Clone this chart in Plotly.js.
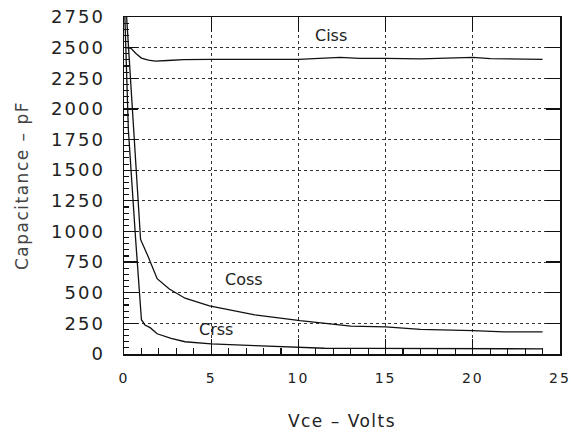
<!DOCTYPE html>
<html>
<head>
<meta charset="utf-8">
<script src="https://cdn.plot.ly/plotly-3.0.1.min.js"></script>
<style>
  html, body { margin: 0; padding: 0; background: #fff; }
  #chart { width: 573px; height: 433px; }
  .xtick text { letter-spacing: 2px; }
  .ytick text { letter-spacing: 2px; }
  .g-xtitle text, .g-ytitle text { letter-spacing: 1.5px; }
</style>
</head>
<body>
<div id="chart"></div>
<script>
// Vce (volts) and capacitance (pF)
const cissX = [0.1, 0.4, 0.7, 1.0, 1.4, 1.8, 2.5, 3.4, 5, 7.5, 10, 12.4, 13.5, 15, 17, 20, 21, 24];
const cissY = [2500, 2495, 2450, 2415, 2398, 2390, 2395, 2402, 2405, 2408, 2405, 2420, 2412, 2412, 2408, 2420, 2410, 2404];

const cossX = [0.15, 0.55, 0.95, 1.4, 1.9, 2.6, 3.5, 4.9, 7.5, 10.1, 13, 15, 17, 20, 21.8, 24];
const cossY = [2750, 1830, 935, 790, 615, 530, 455, 392, 320, 272, 228, 222, 201, 190, 180, 180];

const crssX = [0.05, 0.25, 0.67, 1.0, 1.2, 1.5, 1.9, 2.7, 3.5, 5, 7.5, 10, 10.6, 11.5, 14, 20, 24];
const crssY = [2750, 1830, 930, 280, 237, 215, 165, 128, 100, 82, 68, 58, 52, 47, 46, 44, 42];

const seriesNames = ['Ciss', 'Coss', 'Crss'];
const labelX = [11.87, 6.88, 5.28];
const labelY = [2595, 612, 196];

const xTickVals = [0, 5, 10, 15, 20, 25];
const yTickVals = [0, 250, 500, 750, 1000, 1250, 1500, 1750, 2000, 2250, 2500, 2750];

const FONT = 'DejaVu Sans, Verdana, sans-serif';
const INK = '#111';

const lineStyle = { color: INK, width: 1.3 };
const traces = [
  { x: cissX, y: cissY, mode: 'lines', line: lineStyle, name: seriesNames[0], showlegend: false },
  { x: cossX, y: cossY, mode: 'lines', line: lineStyle, name: seriesNames[1], showlegend: false },
  { x: crssX, y: crssY, mode: 'lines', line: lineStyle, name: seriesNames[2], showlegend: false },
  { x: [0], y: [0], xaxis: 'x2', yaxis: 'y2', mode: 'markers', marker: { size: 1, opacity: 0 }, showlegend: false, hoverinfo: 'skip' }
];

const annotations = seriesNames.map((n, i) => ({
  x: labelX[i], y: labelY[i], xref: 'x', yref: 'y', text: n, showarrow: false,
  font: { family: FONT, size: 16, color: '#222' }
}));

const layout = {
  width: 573, height: 433,
  margin: { l: 124, r: 13, t: 17, b: 79 },
  paper_bgcolor: '#fff', plot_bgcolor: '#fff',
  showlegend: false,
  font: { family: FONT, color: '#222' },
  xaxis: {
    range: [0, 25], tickvals: xTickVals, ticks: 'inside', ticklen: 15, tickwidth: 1.2, tickcolor: INK,
    showline: true, linewidth: 1.5, linecolor: INK, mirror: 'ticks',
    showgrid: true, griddash: 'dot', gridcolor: '#333', gridwidth: 1, zeroline: false,
    tickfont: { family: FONT, size: 14, color: '#222' }, ticklabelstandoff: 11,
    title: { text: 'Vce – Volts', font: { family: FONT, size: 17, color: '#222' }, standoff: 30 }
  },
  yaxis: {
    range: [0, 2750], tickvals: yTickVals, ticks: 'inside', ticklen: 14, tickwidth: 1.2, tickcolor: INK,
    showline: true, linewidth: 1.5, linecolor: INK, mirror: 'ticks',
    showgrid: true, griddash: 'dot', gridcolor: '#333', gridwidth: 1, zeroline: false,
    tickfont: { family: FONT, size: 18, color: '#222' }, ticklabelstandoff: 14,
    title: { text: 'Capacitance – pF', font: { family: FONT, size: 17, color: '#444' }, standoff: 18 }
  },
  xaxis2: {
    overlaying: 'x', anchor: 'y', side: 'bottom', range: [0, 25], dtick: 1, tick0: 0,
    ticks: 'inside', ticklen: 6, tickwidth: 1.1, tickcolor: INK,
    showticklabels: false, showgrid: false, showline: false, zeroline: false
  },
  yaxis2: {
    overlaying: 'y', anchor: 'x', side: 'left', range: [0, 2750], dtick: 50, tick0: 0,
    ticks: 'inside', ticklen: 5, tickwidth: 1.1, tickcolor: INK,
    showticklabels: false, showgrid: false, showline: false, zeroline: false
  },
  annotations: annotations
};

Plotly.newPlot('chart', traces, layout, { staticPlot: true, displayModeBar: false });
</script>
</body>
</html>
